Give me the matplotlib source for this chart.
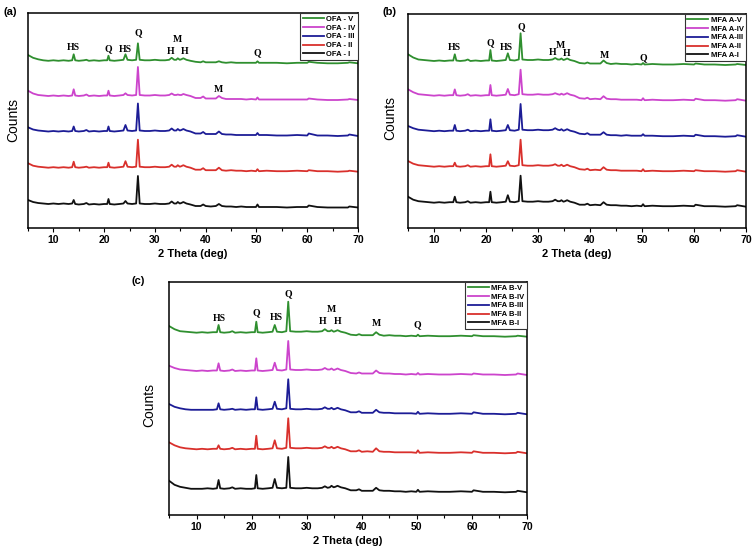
import matplotlib
matplotlib.use("Agg")
import matplotlib.pyplot as plt
from matplotlib.ticker import MultipleLocator

# 2 theta grid shared by every pattern (deg)
two_theta = [5, 6, 7, 8, 9, 10, 11, 12, 13, 13.7,
             14.0, 14.3, 15, 16, 16.5, 17, 18, 19, 20, 20.6,
             20.85, 21.1, 22, 23, 23.8, 24.2, 24.6, 25.5, 26.3, 26.65,
             27.0, 28, 29, 30, 31, 32, 32.8, 33.3, 33.8, 34.2,
             34.5, 34.9, 35.2, 35.6, 36.2, 37, 38, 39, 39.5, 40,
             41, 42, 42.6, 43.2, 44, 45, 46, 47, 48, 49,
             49.9, 50.2, 50.5, 52, 54, 56, 58, 60, 60.3, 62,
             64, 66, 68, 68.3, 70]

# ---- (a) OFA ----
ofa_labels = ["OFA - I", "OFA - II", "OFA - III", "OFA - IV", "OFA - V"]
ofa_1 = [7.5, 5.5, 4.5, 4, 3.5, 4, 3.5, 4, 3.5, 4,
         7.5, 3.5, 3, 3.5, 4.5, 3, 3.5, 3, 3.5, 3.5,
         8.5, 3.5, 3, 3.5, 4, 6.5, 4, 3.5, 4, 31.5,
         4, 3.5, 3.5, 4, 3.5, 3.5, 4, 6, 4, 4,
         5.5, 4, 4.5, 5.5, 4, 3, 1.5, 1.5, 3, 1.5,
         1, 1.5, 3.5, 1.5, 1, 1, 0.5, 1, 0.5, 0.5,
         0.5, 3, 0.5, 0.5, 0.5, 0, 0.5, 0.5, 2, 0.5,
         0, 0, 0, 1, 0]
ofa_2 = [8.5, 6, 5, 4.5, 4, 4.5, 4, 4.5, 4, 4.5,
         10, 4.5, 4, 4.5, 5, 4, 4.5, 4, 4.5, 4.5,
         9, 4.5, 4, 4.5, 5, 10.5, 5, 4.5, 5, 32,
         5, 4.5, 4.5, 5, 4.5, 4.5, 5, 7, 5, 5,
         6.5, 5, 5.5, 6.5, 5, 4, 2, 2, 3.5, 1.5,
         1.5, 1.5, 4, 1.5, 1, 1.5, 1, 1, 0.5, 1,
         0.5, 2.5, 0.5, 1, 0.5, 0.5, 1, 0.5, 1.5, 0.5,
         0.5, 0, 0.5, 1, 0]
ofa_3 = [8.7, 6.5, 5.5, 5, 4.5, 5, 4.5, 5, 4.5, 5,
         9.5, 5, 4.5, 5, 6, 4.5, 5, 4.5, 5, 5,
         9.5, 5, 4.5, 5, 5.5, 11, 5.5, 5, 5.5, 32.5,
         5.5, 5, 5, 5.5, 5, 5, 5.5, 7.5, 5.5, 5.5,
         7, 5.5, 6, 7, 5.5, 4.5, 2.5, 2.5, 4, 2,
         2, 2, 4.5, 2, 1.5, 1.5, 1, 1, 1, 1,
         1, 3, 1, 1, 0.5, 0.5, 1, 0.5, 2.5, 0.5,
         0.5, 0, 0.5, 1.5, 0]
ofa_4 = [9.3, 6.5, 5, 4.5, 4, 4.5, 4, 4.5, 4, 4.5,
         10.7, 4.5, 4, 4.5, 5.5, 4, 4.5, 4, 4.5, 4.5,
         9.3, 4.5, 4, 4.5, 5, 6.7, 5, 4.5, 5, 33,
         5, 4.5, 4.5, 5, 4.5, 4.5, 5, 6.5, 5, 5,
         5.5, 5, 5, 6, 5, 4, 2, 2, 3.5, 1.5,
         1.5, 1.5, 4, 2, 1, 1, 1, 1, 0.5, 1,
         0.5, 2.5, 0.5, 0.5, 0.5, 0.5, 0.5, 0.5, 1.5, 0.5,
         0, 0, 0.5, 1, 0]
ofa_5 = [8.3, 5.5, 4, 3, 2.5, 3, 2.5, 3, 2.5, 3,
         9, 3, 2.5, 3, 3.5, 2.5, 3, 2.5, 3, 3,
         7.6, 3, 2.5, 3, 3.5, 9, 3.5, 3, 3.5, 20,
         3.5, 3, 3, 3.5, 3, 3, 3.5, 5.5, 3.5, 3.5,
         5, 3.5, 4, 5, 3.5, 2.5, 1.5, 1, 2, 1,
         1, 1, 2, 1, 0.5, 1, 0.5, 0.5, 0.5, 0.5,
         0.5, 2, 0.5, 0.5, 0.5, 0, 0.5, 0.5, 1.5, 0.5,
         0, 0, 0.5, 1, 0]
ofa_marks = ["HS", "Q", "HS", "Q", "M", "H", "H", "Q", "M"]
ofa_mark_x = [14.0, 20.85, 24.2, 26.65, 34.5, 33.1, 35.8, 50.2, 42.6]
ofa_mark_y = [180, 179, 179, 195, 188, 177, 177, 175, 139]

# ---- (b) MFA A ----
mfa_a_labels = ["MFA A-I", "MFA A-II", "MFA A-III", "MFA A-IV", "MFA A-V"]
mfa_a_1 = [10, 7, 5.5, 5, 4.5, 4, 4.5, 4, 4.5, 4.5,
           10, 4.5, 4, 4.5, 5.5, 4, 4.5, 4, 4.5, 4.5,
           15, 4.5, 4, 4.5, 5, 11.5, 5, 4.5, 5.5, 31,
           5.5, 5, 5, 5.5, 5, 5, 5.5, 7, 5.5, 5.5,
           6.5, 5, 5.5, 6.5, 5, 4, 2, 2, 3, 1.5,
           2, 1.5, 4.5, 2, 1.5, 1.5, 1, 1, 0.5, 1,
           0.5, 2.5, 0.5, 1, 0.5, 0.5, 1, 0.5, 2, 0.5,
           0.5, 0, 0.5, 1.5, 0]
mfa_a_2 = [10.7, 8, 6.5, 6, 5.5, 5, 5.5, 5, 5.5, 5.5,
           9, 5.5, 5, 5.5, 6.5, 5, 5.5, 5, 5.5, 5.5,
           17.4, 5.5, 5, 5.5, 6, 10.5, 6, 5.5, 6.5, 32,
           6.5, 6, 6, 6.5, 6, 6, 6.5, 7.5, 6, 6,
           7, 5.5, 6, 7, 5.5, 4.5, 2.5, 2, 3, 1.5,
           2, 1.5, 4.5, 2, 1.5, 1.5, 1, 1, 1, 1,
           0.5, 2.5, 0.5, 1, 0.5, 0.5, 1, 0.5, 1.5, 0.5,
           0.5, 0, 0.5, 1.5, 0]
mfa_a_3 = [10.7, 8.5, 7, 6.5, 6, 5.5, 6, 5.5, 6, 6,
           11.7, 6, 5.5, 6, 7, 5.5, 6, 5.5, 6, 6,
           17.4, 6, 5.5, 6, 6.5, 11.7, 6.5, 6, 7, 32.7,
           7, 6.5, 6.5, 7, 6.5, 6.5, 7, 8.5, 7, 6.5,
           7.5, 6, 6.5, 7.5, 6, 5, 3, 2.5, 3.5, 2,
           2, 2, 4.5, 2, 1.5, 1.5, 1, 1.5, 1, 1,
           1, 2.5, 1, 1, 0.5, 0.5, 1, 0.5, 2, 0.5,
           0.5, 0, 0.5, 1.5, 0]
mfa_a_4 = [11.4, 8.5, 6.5, 6, 5.5, 5, 5.5, 5, 5.5, 5.5,
           11.3, 5.5, 5, 5.5, 6.5, 5, 5.5, 5, 5.5, 5.5,
           15.7, 5.5, 5, 5.5, 6, 11.7, 6, 5.5, 6.5, 31,
           6.5, 6, 6, 6.5, 6, 6, 6.5, 7.5, 6.5, 6,
           7, 6, 6.5, 7.5, 6, 5, 2.5, 2, 3, 1.5,
           2, 1.5, 4.5, 2, 1.5, 1.5, 1, 1, 1, 1,
           0.5, 2.5, 0.5, 1, 0.5, 0.5, 1, 0.5, 2, 0.5,
           0.5, 0, 0.5, 1.5, 0]
mfa_a_5 = [10.7, 7.5, 5.5, 5, 4.5, 4, 4.5, 4, 4.5, 4.5,
           10.7, 4.5, 4, 4.5, 5.5, 4, 4.5, 4, 4.5, 4.5,
           15, 4.5, 4, 4.5, 5, 11.7, 5, 4.5, 5.5, 31.7,
           5.5, 5, 5, 5.5, 5, 5, 5.5, 7, 5.5, 5.5,
           6.5, 5, 5.5, 6.5, 5, 4, 2, 1.5, 2.5, 1.5,
           1.5, 1.5, 4.5, 2, 1, 1.5, 1, 1, 0.5, 1,
           0.5, 2, 0.5, 1, 0.5, 0.5, 1, 0.5, 1.5, 0.5,
           0.5, 0, 0.5, 1, 0]
mfa_a_marks = ["HS", "Q", "HS", "Q", "H", "M", "H", "M", "Q"]
mfa_a_mark_x = [14.0, 20.9, 23.9, 26.7, 32.8, 34.4, 35.6, 42.8, 50.2]
mfa_a_mark_y = [180, 185.7, 180, 201.3, 175.7, 183, 174.7, 172, 170.7]

# ---- (c) MFA B ----
mfa_b_labels = ["MFA B-I", "MFA B-II", "MFA B-III", "MFA B-IV", "MFA B-V"]
mfa_b_1 = [11.6, 7.5, 5.5, 4.5, 3.5, 3.5, 3.5, 4, 3.5, 4,
           12.3, 4, 3.5, 4, 5, 3.5, 4, 3.5, 3.5, 4,
           17.3, 4, 3.5, 4, 4.5, 13.3, 4.5, 4, 4.5, 35.3,
           4.5, 4, 4, 4.5, 4, 4, 4.5, 6, 4.5, 5,
           6.5, 5, 5.5, 6.5, 5, 4, 2, 2, 3, 1.5,
           1.5, 1.5, 4.5, 2, 1.5, 1.5, 1, 1, 0.5, 1,
           0.5, 2.5, 0.5, 1, 0.5, 0.5, 1, 0.5, 2, 0.5,
           0.5, 0, 0.5, 1.5, 0]
mfa_b_2 = [11, 8, 6, 5, 4.5, 4, 4.5, 4, 4.5, 4.5,
           8, 4.5, 4, 4.5, 5.5, 4, 4.5, 4, 4.5, 4.5,
           17.6, 4.5, 4, 4.5, 5, 13, 5, 4.5, 5.5, 35,
           5.5, 5, 5, 5.5, 5, 5, 5.5, 7, 5.5, 5.5,
           6.5, 5, 5.5, 6.5, 5, 4, 2, 2, 3, 1.5,
           2, 1.5, 5, 2, 1.5, 1.5, 1, 1, 1, 1,
           0.5, 3, 0.5, 1, 0.5, 0.5, 1, 0.5, 2, 0.5,
           0.5, 0, 0.5, 1.5, 0]
mfa_b_3 = [10.3, 7.5, 6, 5, 4.5, 4.5, 4.5, 4.5, 4.5, 5,
           11, 5, 4.5, 5, 5.5, 4.5, 5, 4.5, 5, 5,
           17, 5, 4.5, 5, 5.5, 12.6, 5.5, 5, 6, 35,
           5.5, 5, 5, 5.5, 5, 5, 5.5, 7, 5.5, 5.5,
           6.5, 5, 5.5, 6.5, 5, 4, 2, 2, 3, 1.5,
           1.5, 1.5, 4.5, 2, 1.5, 1.5, 1, 1, 1, 1,
           0.5, 2.5, 0.5, 1, 0.5, 0.5, 1, 0.5, 2, 0.5,
           0.5, 0, 0.5, 1.5, 0]
mfa_b_4 = [9.3, 7, 5.5, 5, 4.5, 4, 4.5, 4, 4.5, 4.5,
           11.7, 4.5, 4, 4.5, 5.5, 4, 4.5, 4, 4.5, 4.5,
           16.7, 4.5, 4, 4.5, 5, 12.3, 5, 4.5, 5.5, 34,
           5.5, 5, 5, 5.5, 5, 5, 5.5, 7, 5.5, 5.5,
           6.5, 5, 5.5, 6.5, 5, 4, 2, 1.5, 2.5, 1.5,
           1.5, 1.5, 4.5, 2, 1.5, 1.5, 1, 1, 0.5, 1,
           0.5, 2, 0.5, 1, 0.5, 0.5, 1, 0.5, 1.5, 0.5,
           0.5, 0, 0.5, 1.5, 0]
mfa_b_5 = [10.7, 7.5, 5.5, 5, 4.5, 4, 4.5, 4, 4.5, 4.5,
           11.7, 4.5, 4, 4.5, 5.5, 4, 4.5, 4, 4.5, 4.5,
           15, 4.5, 4, 4.5, 5, 11.7, 5, 4.5, 5.5, 35,
           5.5, 5, 5, 5.5, 5, 5, 5.5, 7.5, 5.5, 5.5,
           6.5, 5, 5.5, 6.5, 5, 4, 2, 1.5, 2.5, 1.5,
           1.5, 1.5, 4.5, 2, 1, 1.5, 1, 1, 0.5, 1,
           0.5, 2, 0.5, 1, 0.5, 0.5, 1, 0.5, 1.5, 0.5,
           0.5, 0, 0.5, 1, 0]
mfa_b_marks = ["HS", "Q", "HS", "Q", "H", "M", "H", "M", "Q"]
mfa_b_mark_x = [14.1, 20.9, 24.4, 26.7, 32.9, 34.5, 35.7, 42.6, 50.1]
mfa_b_mark_y = [196.7, 202.3, 197.3, 221, 193.3, 205, 194, 191.7, 190.7]

# colours from I to V
colors = ["#111111", "#d9302c", "#1c1c96", "#cc44cc", "#2f8f2f"]


def draw_panel(ax, patterns, labels, offsets, ymax, marks, mark_x, mark_y):
    for y, lab, off, c in zip(patterns, labels, offsets, colors):
        assert len(y) == len(two_theta)
        ax.plot(two_theta, [v + off for v in y], color=c, lw=1.3, label=lab)
    for t, x, y in zip(marks, mark_x, mark_y):
        ax.text(x, y, t, ha="center", va="center", fontsize=7,
                fontweight="bold", family="Liberation Serif")
    ax.set_xlim(5, 70)
    ax.set_ylim(0, ymax)
    ax.set_yticks([])
    ax.xaxis.set_major_locator(MultipleLocator(10))
    ax.xaxis.set_minor_locator(MultipleLocator(5))
    ax.tick_params(axis="x", which="major", direction="out", length=3,
                   width=0.8, labelsize=7.5, pad=2)
    ax.tick_params(axis="x", which="minor", direction="out", length=2, width=0.8)
    for lbl in ax.get_xticklabels():
        lbl.set_fontweight("bold")
    for s in ax.spines.values():
        s.set_linewidth(1.1)
    ax.set_xlabel("2 Theta (deg)", fontsize=8, fontweight="bold", labelpad=3)
    h, l = ax.get_legend_handles_labels()
    leg = ax.legend(h[::-1], l[::-1], loc="upper right", borderaxespad=0,
                    prop={"weight": "bold", "size": 5.5},
                    handlelength=2.8, handletextpad=0.3, labelspacing=0.2,
                    borderpad=0.3, fancybox=False, framealpha=1)
    leg.get_frame().set_edgecolor("#333333")
    leg.get_frame().set_linewidth(0.8)


def main():
    plt.rcParams["font.family"] = ["Liberation Sans", "DejaVu Sans"]
    fig = plt.figure(figsize=(7.56, 5.57), dpi=100)
    W, H = 756.0, 557.0

    ax_a = fig.add_axes([28 / W, 1 - 228 / H, 330 / W, 215 / H])
    ax_b = fig.add_axes([408 / W, 1 - 228 / H, 338 / W, 214 / H])
    ax_c = fig.add_axes([169 / W, 1 - 515 / H, 358 / W, 233 / H])

    draw_panel(ax_a, [ofa_1, ofa_2, ofa_3, ofa_4, ofa_5], ofa_labels,
               [20.5, 56.3, 92, 128, 164.7], 215, ofa_marks, ofa_mark_x, ofa_mark_y)
    draw_panel(ax_b, [mfa_a_1, mfa_a_2, mfa_a_3, mfa_a_4, mfa_a_5], mfa_a_labels,
               [21.3, 56.3, 91.3, 127.3, 163], 214, mfa_a_marks, mfa_a_mark_x, mfa_a_mark_y)
    draw_panel(ax_c, [mfa_b_1, mfa_b_2, mfa_b_3, mfa_b_4, mfa_b_5], mfa_b_labels,
               [22.7, 61.7, 100.7, 140, 178.3], 233, mfa_b_marks, mfa_b_mark_x, mfa_b_mark_y)

    # panel letters and y labels
    for txt, x, y in [("(a)", 4, 12), ("(b)", 382, 12), ("(c)", 132, 281)]:
        fig.text(x / W, 1 - y / H, txt, fontsize=8, fontweight="bold", va="center")
    for x, y in [(13, 120), (390, 118), (149, 405)]:
        fig.text(x / W, 1 - y / H, "Counts", fontsize=10, rotation=90,
                 ha="center", va="center")

    fig.savefig("out.png", dpi=100)


if __name__ == "__main__":
    main()
